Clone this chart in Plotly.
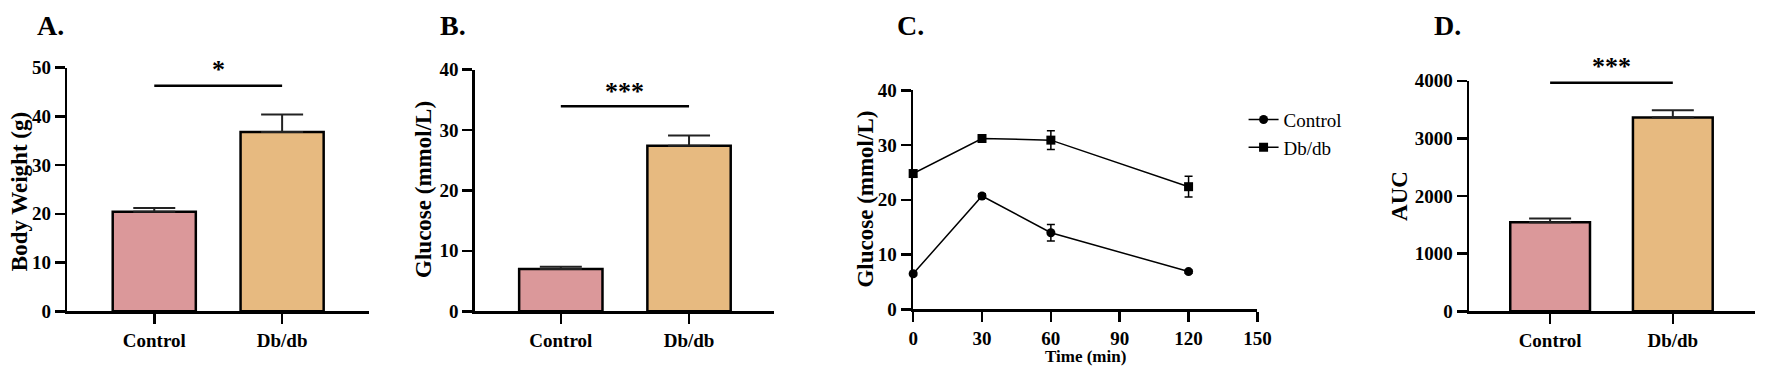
import plotly.graph_objects as go

W, H = 1772, 378

groups = ["Control", "Db/db"]
bw_vals = [20.4, 36.8]
bw_err = [0.8, 3.6]
glu_vals = [7.0, 27.4]
glu_err = [0.35, 1.7]
auc_vals = [1545, 3365]
auc_err = [65, 125]

times = [0, 30, 60, 120]
ipgtt_control = [6.5, 20.7, 14.0, 6.9]
ipgtt_control_err = [0.3, 0.4, 1.5, 0.3]
ipgtt_db = [24.8, 31.2, 30.9, 22.4]
ipgtt_db_err = [0.6, 0.5, 1.7, 1.9]

bar_colors = ["#DB989A", "#E7BA80"]
FONT = "Liberation Serif"


def px_x(p):
    return p / W


def px_y(p):
    return 1 - p / H


fig = go.Figure()

for xa, ya, vals, errs in [("x", "y", bw_vals, bw_err),
                           ("x2", "y2", glu_vals, glu_err),
                           ("x4", "y4", auc_vals, auc_err)]:
    fig.add_trace(go.Bar(
        x=groups, y=vals, xaxis=xa, yaxis=ya, width=0.65,
        marker=dict(color=bar_colors, line=dict(color="black", width=2.5)),
        error_y=dict(type="data", symmetric=False, array=errs, arrayminus=[0, 0],
                     width=21, thickness=2, color="#222222"),
        showlegend=False,
    ))

fig.add_trace(go.Scatter(
    x=times, y=ipgtt_control, xaxis="x3", yaxis="y3", name="Control",
    mode="lines+markers", cliponaxis=False,
    line=dict(color="black", width=1.5),
    marker=dict(symbol="circle", size=9, color="black"),
    error_y=dict(type="data", array=ipgtt_control_err, width=4, thickness=1.5, color="black"),
))
fig.add_trace(go.Scatter(
    x=times, y=ipgtt_db, xaxis="x3", yaxis="y3", name="Db/db",
    mode="lines+markers", cliponaxis=False,
    line=dict(color="black", width=1.5),
    marker=dict(symbol="square", size=9, color="black"),
    error_y=dict(type="data", array=ipgtt_db_err, width=4, thickness=1.5, color="black"),
))

axis_common = dict(
    showline=True, linecolor="black", linewidth=2.5, ticks="outside", ticklen=10,
    tickwidth=2.5, tickcolor="black", showgrid=False, zeroline=False,
    tickfont=dict(family=FONT, size=19, color="black", weight="bold"),
)

panels = {
    "1": (63, 368, 61, 319, [-0.68, 1.68], [0, 50], 10),
    "2": (475, 777, 63, 319, [-0.67, 1.66], [0, 40], 10),
    "3": (918, 1266, 85, 317, [0, 150], [0, 40], 10),
    "4": (1480, 1769, 75, 319, [-0.66, 1.67], [0, 4000], 1000),
}
layout_axes = {}
for k, (x0, x1, yt, yb, xr, yr, dt) in panels.items():
    xname = "xaxis" if k == "1" else f"xaxis{k}"
    yname = "yaxis" if k == "1" else f"yaxis{k}"
    anchor_y = "y" if k == "1" else f"y{k}"
    anchor_x = "x" if k == "1" else f"x{k}"
    xa = dict(axis_common, domain=[px_x(x0), px_x(x1)], anchor=anchor_y, range=xr)
    if k == "3":
        xa.update(tickmode="linear", tick0=0, dtick=30)
    ya = dict(axis_common, domain=[px_y(yb), px_y(yt)], anchor=anchor_x, range=yr,
              tickmode="linear", tick0=0, dtick=dt)
    layout_axes[xname] = xa
    layout_axes[yname] = ya

fig.update_layout(**layout_axes)

# significance lines and stars
sig = [("x", "y", 46.3, 63, "*"), ("x2", "y2", 33.9, 86, "***"), ("x4", "y4", 3965, 60, "***")]
annotations = []
shapes = []
for xa, ya, ly, star_px, txt in sig:
    shapes.append(dict(type="line", xref=xa, yref=ya, x0=0, x1=1, y0=ly, y1=ly,
                       line=dict(color="black", width=2.5)))
    annotations.append(dict(xref=xa, yref="paper", x=0.5, y=px_y(star_px), text=txt,
                            showarrow=False, yanchor="middle",
                            font=dict(family=FONT, size=26, color="black", weight="bold")))

# panel letters
for lbl, xp in [("A.", 30), ("B.", 438), ("C.", 900), ("D.", 1442)]:
    annotations.append(dict(xref="paper", yref="paper", x=px_x(xp), y=px_y(16), text=lbl,
                            xanchor="left", yanchor="middle", showarrow=False,
                            font=dict(family=FONT, size=28, color="black", weight="bold")))

# y titles
for txt, xc, yc in [("Body Weight (g)", 14, 192), ("Glucose (mmol/L)", 423, 190),
                    ("Glucose (mmol/L)", 870, 200), ("AUC", 1409, 197)]:
    annotations.append(dict(xref="paper", yref="paper", x=px_x(xc), y=px_y(yc), text=txt,
                            textangle=-90, xanchor="center", yanchor="middle", showarrow=False,
                            font=dict(family=FONT, size=23, color="black", weight="bold")))

annotations.append(dict(xref="paper", yref="paper", x=px_x(1092), y=px_y(367), text="Time (min)",
                        xanchor="center", yanchor="middle", showarrow=False,
                        font=dict(family=FONT, size=17, color="black", weight="bold")))

fig.update_layout(
    width=W, height=H, margin=dict(l=0, r=0, t=0, b=0),
    paper_bgcolor="white", plot_bgcolor="white",
    annotations=annotations, shapes=shapes,
    showlegend=True,
    legend=dict(x=px_x(1252), y=px_y(96), xanchor="left", yanchor="top",
                font=dict(family=FONT, size=19, color="black"), itemwidth=30,
                bgcolor="rgba(0,0,0,0)", tracegroupgap=4),
)

fig.write_html(
    "out.html",
    config={"displayModeBar": False, "staticPlot": True},
    post_script="document.body.style.margin='0';document.body.style.overflow='hidden';",
)
